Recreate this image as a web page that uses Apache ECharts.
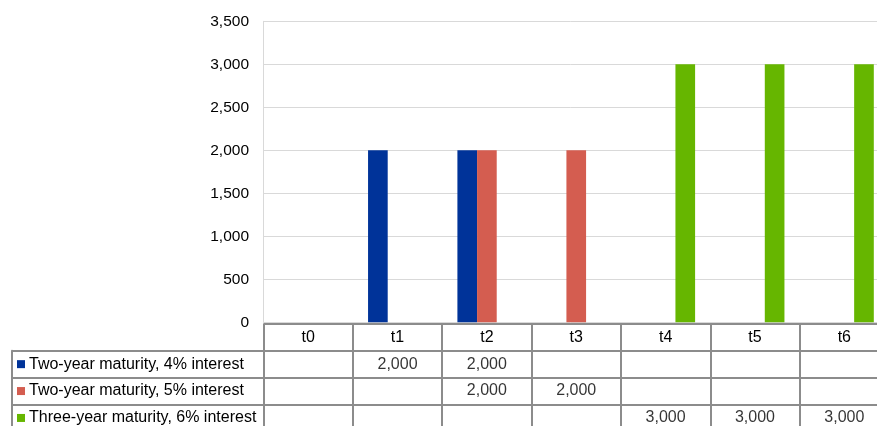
<!DOCTYPE html>
<html>
<head>
<meta charset="utf-8">
<script src="https://cdn.jsdelivr.net/npm/echarts@6/dist/echarts.min.js"></script>
<style>
  html, body { margin: 0; padding: 0; background: #ffffff; }
  #chart { width: 877px; height: 426px; }
</style>
</head>
<body>
<div id="chart"></div>
<script>
// Periods on the horizontal axis
const categories = ['t0', 't1', 't2', 't3', 't4', 't5', 't6'];

// Repayment streams per loan
const seriesNames = [
  'Two-year maturity, 4% interest',
  'Two-year maturity, 5% interest',
  'Three-year maturity, 6% interest'
];
const twoYear4 = [null, 2000, 2000, null, null, null, null];
const twoYear5 = [null, null, 2000, 2000, null, null, null];
const threeYear6 = [null, null, null, null, 3000, 3000, 3000];

// Value axis ticks
const yTicks = [0, 500, 1000, 1500, 2000, 2500, 3000, 3500];

const seriesValues = [twoYear4, twoYear5, threeYear6];
const colors = ['#003399', '#d45d50', '#66b600'];

const FONT = 'Liberation Sans, Arial, sans-serif';
const TEXT = '#000000';
const TABLE_LINE = '#8c8c8c';
const GRID_LINE = '#d9d9d9';

const fmt = v => Number(v).toLocaleString('en-US');

// Plot and table geometry (the last column runs past the right edge)
const plotLeft = 263.5;
const plotWidth = 625.5;
const plotTop = 21.3;
const plotBottom = 322.3;
const tableTop = 323.8;
const rowH = 26.9;

// Cell text for the data table
const cellData = [];
seriesValues.forEach((vals, i) => {
  vals.forEach((v, j) => {
    if (v !== null) cellData.push([categories[j], seriesNames[i], v]);
  });
});

const rich = { t: { fontFamily: FONT, fontSize: 16, color: TEXT, padding: [0, 0, 0, 4] } };
colors.forEach((c, i) => {
  rich['sq' + i] = { width: 8, height: 8, backgroundColor: c };
});

const option = {
  animation: false,
  backgroundColor: '#ffffff',
  grid: [
    { left: plotLeft, width: plotWidth, top: plotTop, height: plotBottom - plotTop, outerBoundsMode: 'none' },
    { left: plotLeft, width: plotWidth, top: tableTop, height: rowH * 4, outerBoundsMode: 'none' },
    { left: 12, width: plotLeft - 12, top: tableTop + rowH, height: rowH * 3, outerBoundsMode: 'none' }
  ],
  xAxis: [
    {
      type: 'category', gridIndex: 0, data: categories,
      axisLine: { show: false }, axisTick: { show: false },
      axisLabel: { margin: 7.5, fontFamily: FONT, fontSize: 16, color: TEXT }
    },
    {
      type: 'category', gridIndex: 1, data: categories,
      axisLine: { show: false }, axisTick: { show: false }, axisLabel: { show: false },
      splitLine: { show: true, interval: 0, lineStyle: { color: TABLE_LINE, width: 2 } }
    },
    { type: 'value', gridIndex: 2, min: 0, max: 1, show: false }
  ],
  yAxis: [
    {
      type: 'value', gridIndex: 0, min: yTicks[0], max: yTicks[yTicks.length - 1], interval: 500,
      axisLine: { show: true, lineStyle: { color: GRID_LINE, width: 1 } },
      axisTick: { show: false },
      axisLabel: { margin: 14.5, fontFamily: FONT, fontSize: 15.5, color: TEXT, formatter: fmt },
      splitLine: { show: true, lineStyle: { color: GRID_LINE, width: 1 } }
    },
    {
      type: 'category', gridIndex: 1, inverse: true, data: [''].concat(seriesNames),
      axisLine: { show: false }, axisTick: { show: false }, axisLabel: { show: false },
      splitLine: { show: true, interval: 0, lineStyle: { color: TABLE_LINE, width: 2 } }
    },
    {
      type: 'category', gridIndex: 2, inverse: true, data: seriesNames,
      axisLine: { show: true, lineStyle: { color: TABLE_LINE, width: 2 } },
      axisTick: { show: false },
      axisLabel: {
        inside: true, margin: 5, align: 'left',
        formatter: (name, idx) => '{sq' + idx + '|}{t|' + name + '}',
        rich: rich
      },
      splitLine: { show: true, interval: 0, lineStyle: { color: TABLE_LINE, width: 2 } }
    }
  ],
  series: seriesValues.map((vals, i) => ({
    name: seriesNames[i],
    type: 'bar',
    xAxisIndex: 0, yAxisIndex: 0,
    data: vals,
    barGap: '0%',
    barCategoryGap: '34%',
    itemStyle: { color: colors[i] }
  })).concat([{
    type: 'scatter',
    xAxisIndex: 1, yAxisIndex: 1,
    data: cellData,
    symbol: 'rect', symbolSize: 1,
    itemStyle: { color: 'rgba(0,0,0,0)' },
    label: {
      show: true, position: 'inside',
      formatter: p => fmt(p.value[2]),
      fontFamily: FONT, fontSize: 16, color: TEXT
    }
  }])
};

const chart = echarts.init(document.getElementById('chart'), null, { renderer: 'canvas' });
chart.setOption(option);
</script>
</body>
</html>
